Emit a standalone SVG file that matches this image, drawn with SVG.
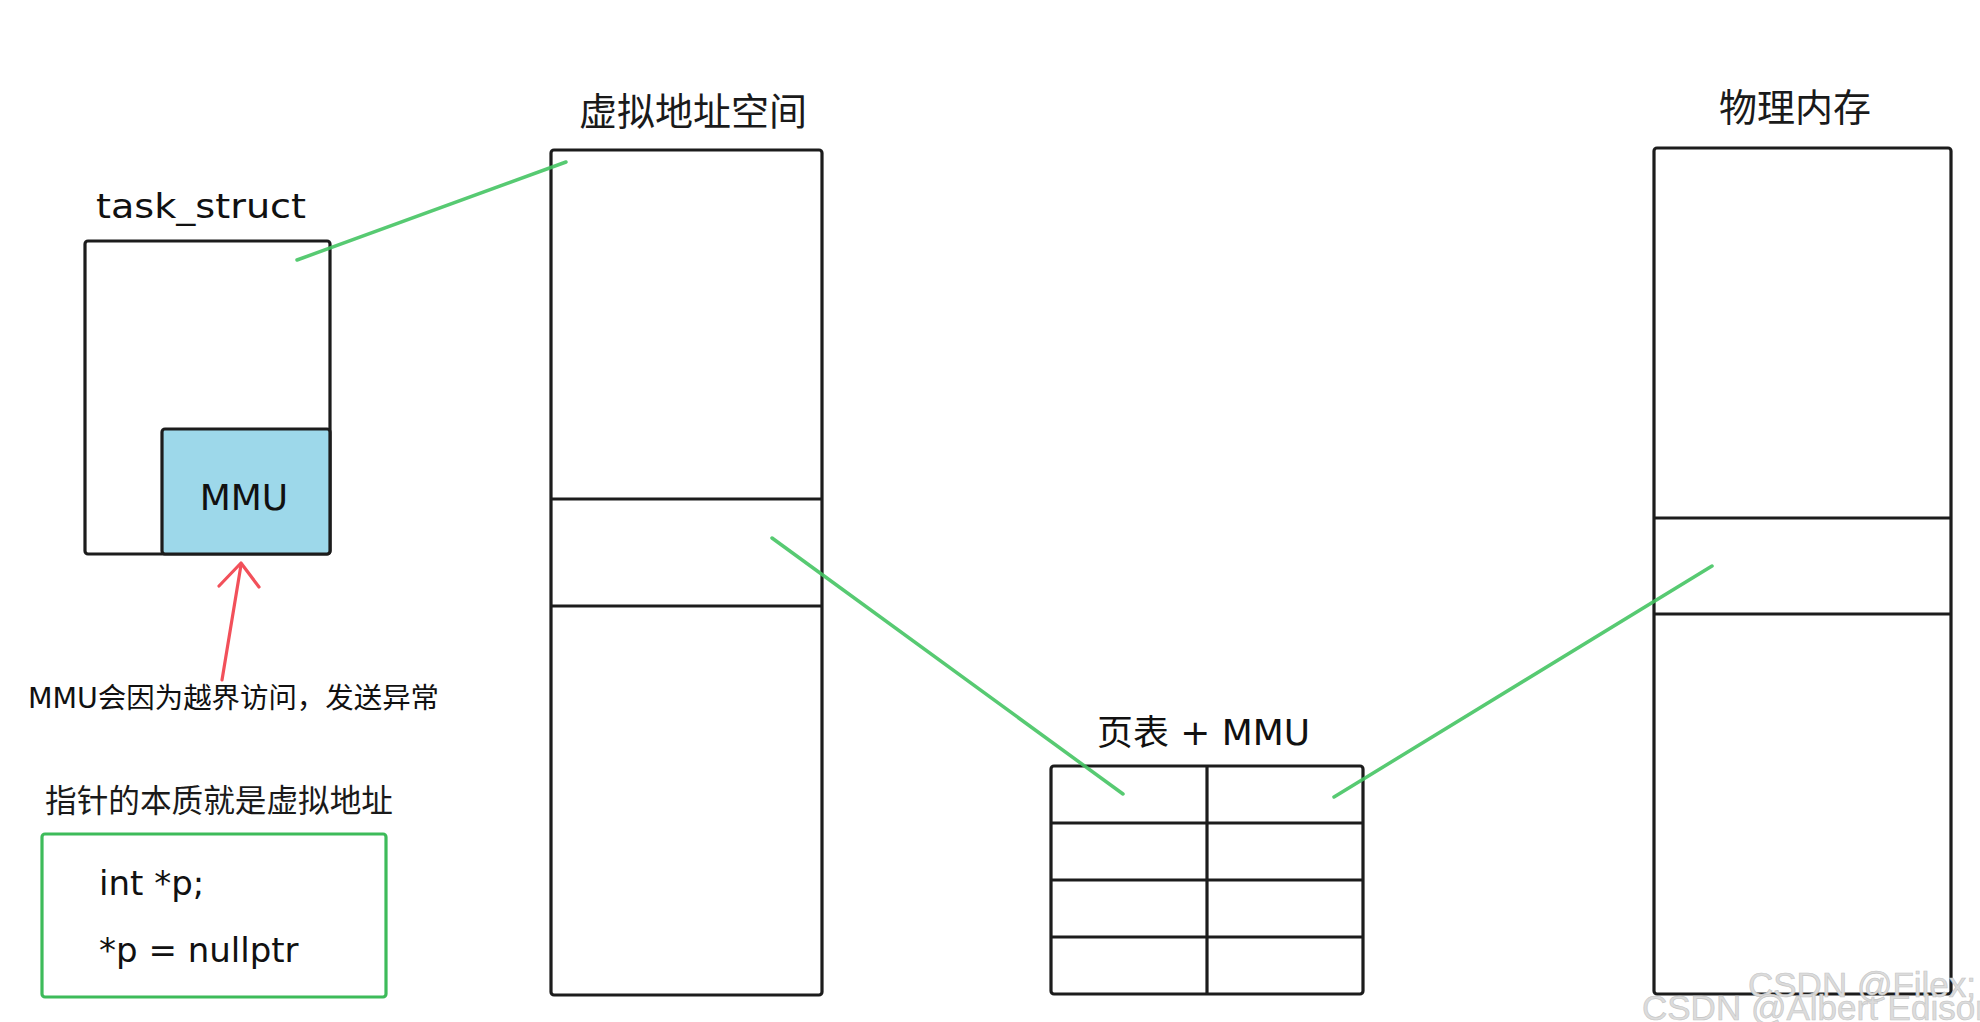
<svg xmlns="http://www.w3.org/2000/svg" width="1980" height="1022" viewBox="0 0 1980 1022">
<style>
.box{fill:none;stroke:#1c1c1c;stroke-width:3.2;stroke-linejoin:round}
.sep{stroke:#1c1c1c;stroke-width:3.2;fill:none}
.lat{font-family:"DejaVu Sans","Noto Sans CJK SC",sans-serif;fill:#111}
.cjk{font-family:"Noto Sans CJK SC","DejaVu Sans",sans-serif;fill:#1a1a1a}
.link{stroke:#45c463;stroke-width:3.5;stroke-linecap:round;fill:none;opacity:0.9}
.wm{font-family:"Liberation Sans",Arial,sans-serif;font-size:35px;fill:#dcdcdc;stroke:#c4c4c4;stroke-width:0.6}
</style>
<rect width="1980" height="1022" fill="#ffffff"/>

<g id="task_struct">
  <text class="lat" x="96" y="218" font-size="33" textLength="210" lengthAdjust="spacingAndGlyphs">task_struct</text>
  <rect class="box" x="85" y="241" width="245" height="313" rx="3"/>
</g>
<g id="mmu">
  <rect x="162" y="429" width="168" height="125" rx="3" fill="#9dd8ea" stroke="#1c1c1c" stroke-width="3.2"/>
  <text class="lat" x="244" y="510" font-size="36" text-anchor="middle">MMU</text>
</g>

<g id="virtual_space">
  <text class="cjk" x="693" y="125" font-size="38" text-anchor="middle">虚拟地址空间</text>
  <rect class="box" x="551" y="150" width="271" height="845" rx="3"/>
  <line class="sep" x1="551" y1="499" x2="822" y2="499"/>
  <line class="sep" x1="551" y1="606" x2="822" y2="606"/>
</g>

<g id="page_table">
  <text class="lat" x="1097" y="745" font-size="35" textLength="213" lengthAdjust="spacingAndGlyphs">页表 + MMU</text>
  <rect class="box" x="1051" y="766" width="312" height="228" rx="3"/>
  <line class="sep" x1="1207" y1="766" x2="1207" y2="994"/>
  <line class="sep" x1="1051" y1="823" x2="1363" y2="823"/>
  <line class="sep" x1="1051" y1="880" x2="1363" y2="880"/>
  <line class="sep" x1="1051" y1="937" x2="1363" y2="937"/>
</g>

<g id="physical_memory">
  <text class="cjk" x="1795" y="121" font-size="38" text-anchor="middle">物理内存</text>
  <rect class="box" x="1654" y="148" width="297" height="846" rx="3"/>
  <line class="sep" x1="1654" y1="518" x2="1951" y2="518"/>
  <line class="sep" x1="1654" y1="614" x2="1951" y2="614"/>
</g>

<g id="mmu_note">
  <text class="lat" x="28" y="708" font-size="28" textLength="411" lengthAdjust="spacingAndGlyphs">MMU会因为越界访问，发送异常</text>
</g>

<g id="pointer_note">
  <text class="cjk" x="45" y="812" font-size="32" textLength="348" lengthAdjust="spacingAndGlyphs">指针的本质就是虚拟地址</text>
  <rect x="42" y="834" width="344" height="163" rx="3" fill="none" stroke="#3dbb5a" stroke-width="3.2"/>
  <text class="lat" x="99" y="895" font-size="34">int *p;</text>
  <text class="lat" x="99" y="962" font-size="34">*p = nullptr</text>
</g>

<g id="connectors">
  <line class="link" x1="297" y1="260" x2="566" y2="162"/>
  <line class="link" x1="772" y1="538" x2="1123" y2="794"/>
  <line class="link" x1="1334" y1="797" x2="1712" y2="566"/>
  <g stroke="#f2505a" stroke-width="3.2" stroke-linecap="round" stroke-linejoin="round" fill="none">
    <line x1="222" y1="680" x2="241" y2="565"/>
    <polyline points="219,586 241,563 259,587"/>
  </g>
</g>

<g id="watermark">
  <text class="wm" x="1748" y="997">CSDN @Filex;</text>
  <text class="wm" x="1642" y="1020">CSDN @Albert Edison</text>
</g>
</svg>
